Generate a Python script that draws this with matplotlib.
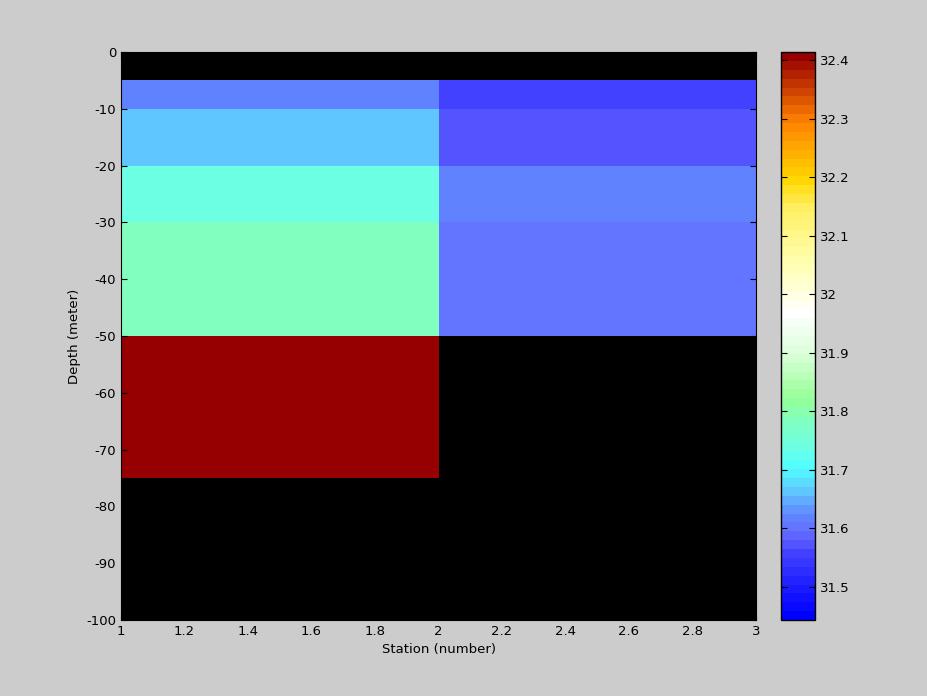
import numpy as np
import matplotlib
matplotlib.use("Agg")
import matplotlib.pyplot as plt
from matplotlib.colors import LinearSegmentedColormap
from matplotlib.ticker import FormatStrFormatter

# salinity section, two stations (cells shown flat like pcolor)
stations = [1, 2, 3]
depths = [0, -5, -10, -20, -30, -50, -75, -100]
sal_station1 = [np.nan, 31.62, 31.66, 31.74, 31.78, 32.414, np.nan]
sal_station2 = [np.nan, 31.55, 31.57, 31.62, 31.60, np.nan, np.nan]
clim = (31.443, 32.414)

# colour anchors (salinity value, rgb 0-255) for the 64 step colormap
anchor_vals = [31.443, 31.50, 31.55, 31.57, 31.59, 31.62, 31.66, 31.70, 31.74,
               31.78, 31.82, 31.90, 31.97, 32.05, 32.15, 32.20, 32.30, 32.35, 32.414]
anchor_rgb = [(0, 0, 255), (32, 32, 255), (64, 64, 255), (88, 88, 255), (100, 110, 255),
              (96, 136, 255), (96, 200, 255), (80, 255, 255), (112, 255, 224),
              (128, 255, 192), (150, 255, 150), (220, 255, 220), (255, 255, 255),
              (255, 255, 180), (255, 240, 100), (255, 215, 0), (255, 130, 0),
              (210, 70, 0), (150, 0, 0)]

pos = [(v - clim[0]) / (clim[1] - clim[0]) for v in anchor_vals]
pos[0], pos[-1] = 0.0, 1.0
cmap = LinearSegmentedColormap.from_list(
    "sal", list(zip(pos, [tuple(c / 255 for c in rgb) for rgb in anchor_rgb])), N=64)
cmap.set_bad("black")

data = np.ma.masked_invalid(np.column_stack([sal_station1, sal_station2]))

bg = "#cccccc"
fig = plt.figure(figsize=(9.28, 6.96), dpi=100, facecolor=bg)
ax = fig.add_axes([121 / 928, 76 / 696, 635 / 928, 568 / 696])
ax.set_facecolor("black")
mesh = ax.pcolormesh(stations, depths, data, cmap=cmap, vmin=clim[0], vmax=clim[1],
                     shading="flat")
ax.set_xlim(1, 3)
ax.set_ylim(-100, 0)
ax.set_xticks(np.arange(1, 3.01, 0.2))
ax.set_yticks(np.arange(-100, 1, 10))
ax.xaxis.set_major_formatter(FormatStrFormatter("%g"))
ax.yaxis.set_major_formatter(FormatStrFormatter("%g"))
ax.tick_params(direction="in", length=4, labelsize=9.5, top=True, right=True, colors="black")
ax.set_xlabel("Station (number)", fontsize=9.5)
ax.set_ylabel("Depth (meter)", fontsize=9.5)

cax = fig.add_axes([781 / 928, 76 / 696, 34 / 928, 568 / 696])
cb = fig.colorbar(mesh, cax=cax)
cb.set_ticks([31.5, 31.6, 31.7, 31.8, 31.9, 32.0, 32.1, 32.2, 32.3, 32.4])
cb.ax.yaxis.set_major_formatter(FormatStrFormatter("%g"))
cb.ax.tick_params(direction="in", length=4, labelsize=9.5, left=True, right=True)
cb.outline.set_linewidth(1)

fig.savefig("out.png", dpi=100, facecolor=bg)
